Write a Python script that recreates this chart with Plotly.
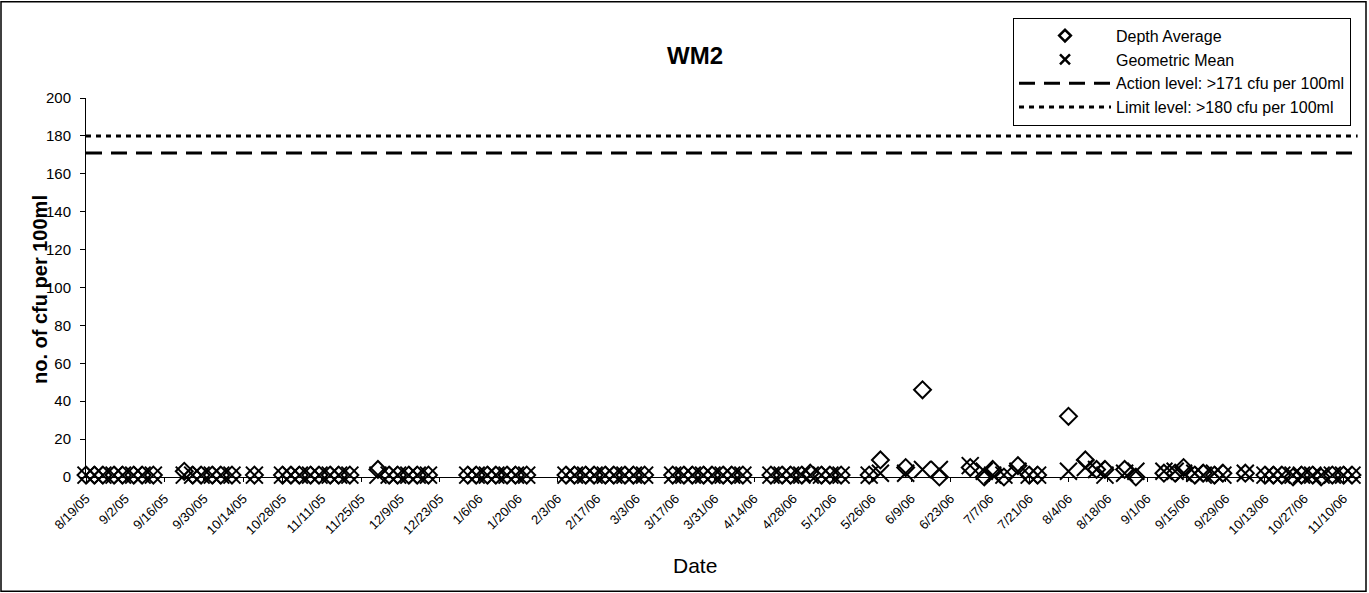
import plotly.graph_objects as go

# ---- data ----
sample_dates = [
    "2005-08-19", "2005-08-22", "2005-08-25", "2005-08-29", "2005-09-01", "2005-09-05", "2005-09-08", "2005-09-12",
    "2005-09-23", "2005-09-26", "2005-09-29", "2005-10-03", "2005-10-06", "2005-10-10",
    "2005-10-18",
    "2005-10-28", "2005-10-31", "2005-11-03", "2005-11-07", "2005-11-10", "2005-11-14", "2005-11-17", "2005-11-21",
    "2005-12-01", "2005-12-05", "2005-12-08", "2005-12-12", "2005-12-15", "2005-12-19",
    "2006-01-02", "2006-01-05", "2006-01-09", "2006-01-12", "2006-01-16", "2006-01-19", "2006-01-23",
    "2006-02-06", "2006-02-09", "2006-02-13", "2006-02-16", "2006-02-20", "2006-02-23", "2006-02-27", "2006-03-02", "2006-03-06",
    "2006-03-16", "2006-03-20", "2006-03-23", "2006-03-27", "2006-03-30", "2006-04-03", "2006-04-06", "2006-04-10",
    "2006-04-20", "2006-04-24", "2006-04-27", "2006-05-01", "2006-05-04", "2006-05-08", "2006-05-11", "2006-05-15",
    "2006-05-25", "2006-05-29", "2006-06-07", "2006-06-13", "2006-06-19", "2006-06-30",
    "2006-07-05", "2006-07-08", "2006-07-12", "2006-07-17", "2006-07-21", "2006-07-24",
    "2006-08-04", "2006-08-10", "2006-08-14", "2006-08-17", "2006-08-24", "2006-08-28",
    "2006-09-07", "2006-09-11", "2006-09-14", "2006-09-18", "2006-09-21", "2006-09-25", "2006-09-28",
    "2006-10-06", "2006-10-13", "2006-10-16", "2006-10-19", "2006-10-23", "2006-10-26", "2006-10-30",
    "2006-11-02", "2006-11-06", "2006-11-10", "2006-11-13",
]

depth_average = [
    1, 1, 1, 1, 1, 1, 1, 1,
    3, 1, 1, 1, 1, 1,
    1,
    1, 1, 1, 1, 1, 1, 1, 1,
    4, 1, 1, 1, 1, 1,
    1, 1, 1, 1, 1, 1, 1,
    1, 1, 1, 1, 1, 1, 1, 1, 1,
    1, 1, 1, 1, 1, 1, 1, 1,
    1, 1, 1, 1, 2, 1, 1, 1,
    1, 9, 5, 46, 0, 5,
    0, 4, 0, 6, 1, 1,
    32, 9, 4, 4, 4, 0,
    2, 2, 5, 1, 2, 1, 2,
    2, 1, 1, 1, 0, 1, 1,
    0, 1, 1, 1,
]

geometric_mean = [
    1, 1, 1, 1, 1, 1, 1, 1,
    1, 1, 1, 1, 1, 1,
    1,
    1, 1, 1, 1, 1, 1, 1, 1,
    1, 1, 1, 1, 1, 1,
    1, 1, 1, 1, 1, 1, 1,
    1, 1, 1, 1, 1, 1, 1, 1, 1,
    1, 1, 1, 1, 1, 1, 1, 1,
    1, 1, 1, 1, 1, 1, 1, 1,
    1, 2, 2, 4, 4, 6,
    3, 1, 1, 3, 1, 1,
    3, 5, 4, 1, 2, 3,
    3, 3, 2, 2, 1, 2, 1,
    2, 1, 1, 1, 1, 1, 1,
    1, 1, 1, 1,
]

level_dates = ["2005-08-19", "2006-11-15"]
action_level = [171, 171]
limit_level = [180, 180]

FONT = "Arial, Liberation Sans, sans-serif"

fig = go.Figure()
fig.add_trace(go.Scatter(
    x=sample_dates, y=depth_average, mode="markers", name="Depth Average",
    legendgroup="da", showlegend=False,
    marker=dict(symbol="diamond-open", size=13, color="black", line=dict(width=2, color="black")),
    cliponaxis=False,
))
fig.add_trace(go.Scatter(
    x=sample_dates, y=geometric_mean, mode="markers", name="Geometric Mean",
    legendgroup="gm", showlegend=False,
    marker=dict(symbol="x-thin", size=17, color="black", line=dict(width=2, color="black")),
    cliponaxis=False,
))
# legend entries (smaller symbols, as in the reference legend)
fig.add_trace(go.Scatter(
    x=[None], y=[None], mode="markers", name="Depth Average", legendgroup="da",
    marker=dict(symbol="diamond-open", size=9, color="black", line=dict(width=2.5, color="black")),
))
fig.add_trace(go.Scatter(
    x=[None], y=[None], mode="markers", name="Geometric Mean", legendgroup="gm",
    marker=dict(symbol="x-thin", size=10, color="black", line=dict(width=2.5, color="black")),
))
fig.add_trace(go.Scatter(
    x=level_dates, y=action_level, mode="lines", name="Action level: >171 cfu per 100ml",
    line=dict(color="black", width=3, dash="16px,9px"),
))
fig.add_trace(go.Scatter(
    x=level_dates, y=limit_level, mode="lines", name="Limit level: >180 cfu per 100ml",
    line=dict(color="black", width=3, dash="5px,5px"),
))

PL, PR, PT, PB = 86, 1361, 97.5, 477.5
W, H = 1369, 593
pw, ph = PR - PL, PB - PT

def px(x):
    return (x - PL) / pw

def py(y):
    return (PB - y) / ph

fig.update_layout(
    width=W, height=H,
    margin=dict(l=PL, r=W - PR, t=PT, b=H - PB, pad=0),
    paper_bgcolor="white", plot_bgcolor="white",
    font=dict(family=FONT, color="black"),
    showlegend=True,
    legend=dict(
        x=px(1013), y=py(17), xanchor="left", yanchor="top",
        bordercolor="black", borderwidth=1, bgcolor="white",
        font=dict(size=16, family=FONT), itemwidth=92, tracegroupgap=0,
        itemsizing="trace",
    ),
    xaxis=dict(
        type="date",
        range=["2005-08-19", "2006-11-16 05:00"],
        tick0="2005-08-19", dtick=14 * 86400000,
        tickformat="%-m/%-d/%y", tickangle=-45,
        tickfont=dict(size=13, family=FONT),
        ticks="outside", ticklen=4, tickcolor="black",
        ticklabelstandoff=4,
        showline=True, linecolor="black", linewidth=1,
        showgrid=False, zeroline=False,
    ),
    yaxis=dict(
        range=[0, 200], tick0=0, dtick=20,
        tickfont=dict(size=15, family=FONT),
        ticks="outside", ticklen=5, tickcolor="black",
        ticklabelstandoff=6,
        showline=True, linecolor="black", linewidth=1,
        showgrid=False, zeroline=False,
    ),
    annotations=[
        dict(text="<b>WM2</b>", x=px(695), y=py(55), xref="paper", yref="paper",
             xanchor="center", yanchor="middle",
             showarrow=False, font=dict(size=24, family=FONT)),
        dict(text="<b>no. of cfu per 100ml</b>", x=px(40), y=py(290), xref="paper", yref="paper",
             xanchor="center", yanchor="middle",
             showarrow=False, textangle=-90, font=dict(size=20, family=FONT)),
        dict(text="Date", x=px(695), y=py(566), xref="paper", yref="paper",
             xanchor="center", yanchor="middle",
             showarrow=False, font=dict(size=21, family=FONT)),
    ],
    shapes=[
        dict(type="rect", xref="paper", yref="paper",
             x0=px(1), x1=px(1366), y0=py(592), y1=py(1),
             line=dict(color="black", width=1.5), layer="below"),
    ],
)

fig.write_html("out.html", config={"displayModeBar": False},
               post_script="document.body.style.margin='0';")
